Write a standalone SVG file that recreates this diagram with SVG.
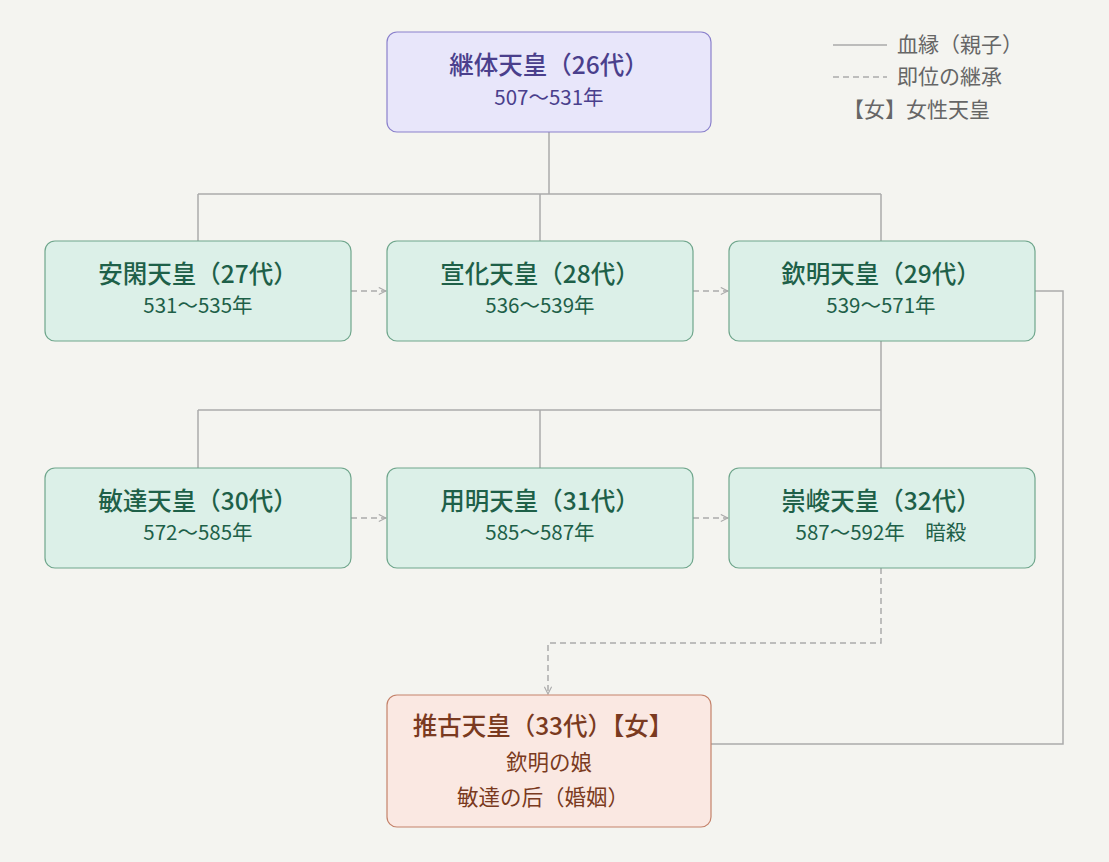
<svg xmlns="http://www.w3.org/2000/svg" width="1109" height="862" viewBox="0 0 1109 862">
<defs>
<marker id="ah" viewBox="0 0 10 10" refX="9" refY="5" markerWidth="6" markerHeight="6" orient="auto"><path d="M1,1 L9,5 L1,9" fill="none" stroke="#aaa" stroke-width="1.2"/></marker>
</defs>
<style>
text{font-family:"Noto Sans CJK JP","Noto Sans",sans-serif;text-anchor:middle}
.t{font-size:24.5px;font-weight:500}
.s{font-size:20.5px}
.s2{font-size:21.5px}
.p rect{fill:#e8e6fa;stroke:#8a80cc;stroke-width:1.2}
.p text{fill:#4a3f8c}
.g rect{fill:#dcf0e8;stroke:#6fa68c;stroke-width:1.2}
.g text{fill:#1e6048}
.r rect{fill:#fae8e2;stroke:#c4826a;stroke-width:1.2}
.r text{fill:#7a3a20}
.ln{fill:none;stroke:#aaa;stroke-width:1.5}
.ds{fill:none;stroke:#aaa;stroke-width:1.5;stroke-dasharray:6 4}
.lg{font-size:21px;fill:#666;text-anchor:start}
</style>
<rect width="1109" height="862" fill="#f4f4f0"/>
<g id="connectors">
<path class="ln" d="M549,132 V194 M198,194 H881 M198,194 V241 M540,194 V241 M881,194 V241"/>
<path class="ln" d="M881,341 V410 M198,410 H881 M198,410 V468 M540,410 V468 M881,410 V468"/>
<path class="ln" d="M1035,291 H1063 V744 H711"/>
<path class="ds" d="M351,291 H386" marker-end="url(#ah)"/>
<path class="ds" d="M693,291 H728" marker-end="url(#ah)"/>
<path class="ds" d="M351,518 H386" marker-end="url(#ah)"/>
<path class="ds" d="M693,518 H728" marker-end="url(#ah)"/>
<path class="ds" d="M881,568 V643 H548 V694" marker-end="url(#ah)"/>
</g>
<g id="legend">
<line x1="833" y1="45" x2="887" y2="45" stroke="#aaa" stroke-width="1.5"/>
<line x1="833" y1="77" x2="887" y2="77" stroke="#aaa" stroke-width="1.5" stroke-dasharray="6 4"/>
<text class="lg" x="897" y="52">血縁（親子）</text>
<text class="lg" x="897" y="84">即位の継承</text>
<text class="lg" x="843" y="117">【女】女性天皇</text>
</g>
<g id="n26" class="p"><rect x="387" y="32" width="324" height="100" rx="10"/><text class="t" x="549" y="74">継体天皇（26代）</text><text class="s" x="549" y="105">507〜531年</text></g>
<g id="n27" class="g"><rect x="45" y="241" width="306" height="100" rx="10"/><text class="t" x="198" y="283">安閑天皇（27代）</text><text class="s" x="198" y="313">531〜535年</text></g>
<g id="n28" class="g"><rect x="387" y="241" width="306" height="100" rx="10"/><text class="t" x="540" y="283">宣化天皇（28代）</text><text class="s" x="540" y="313">536〜539年</text></g>
<g id="n29" class="g"><rect x="729" y="241" width="306" height="100" rx="10"/><text class="t" x="881" y="283">欽明天皇（29代）</text><text class="s" x="881" y="313">539〜571年</text></g>
<g id="n30" class="g"><rect x="45" y="468" width="306" height="100" rx="10"/><text class="t" x="198" y="510">敏達天皇（30代）</text><text class="s" x="198" y="540">572〜585年</text></g>
<g id="n31" class="g"><rect x="387" y="468" width="306" height="100" rx="10"/><text class="t" x="540" y="510">用明天皇（31代）</text><text class="s" x="540" y="540">585〜587年</text></g>
<g id="n32" class="g"><rect x="729" y="468" width="306" height="100" rx="10"/><text class="t" x="881" y="510">崇峻天皇（32代）</text><text class="s" x="881" y="540">587〜592年　暗殺</text></g>
<g id="n33" class="r"><rect x="387" y="695" width="324" height="132" rx="10"/><text class="t" x="543" y="735">推古天皇（33代）【女】</text><text class="s2" x="549" y="770">欽明の娘</text><text class="s2" x="543" y="805">敏達の后（婚姻）</text></g>
</svg>
